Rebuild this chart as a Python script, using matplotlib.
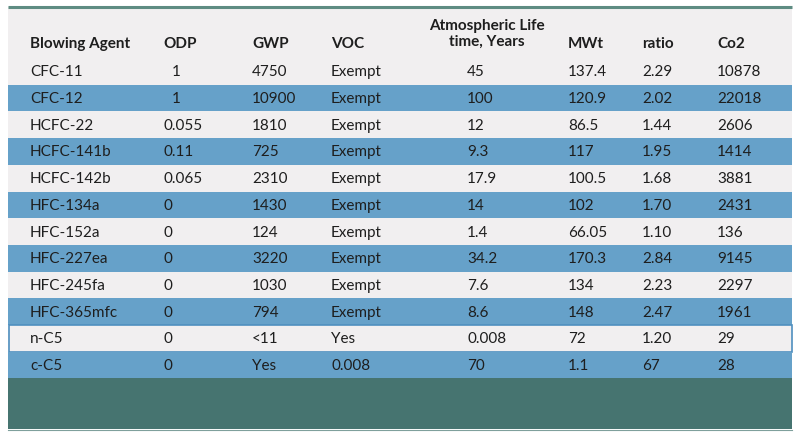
import matplotlib.pyplot as plt
from matplotlib.patches import Rectangle

plt.rcParams['font.family'] = ['Lato', 'DejaVu Sans']

# table content
headers = ['Blowing Agent', 'ODP', 'GWP', 'VOC', 'Atmospheric Life\ntime, Years', 'MWt', 'ratio', 'Co2']
agents = ['CFC-11', 'CFC-12', 'HCFC-22', 'HCFC-141b', 'HCFC-142b', 'HFC-134a',
          'HFC-152a', 'HFC-227ea', 'HFC-245fa', 'HFC-365mfc', 'n-C5', 'c-C5']
odp = ['1', '1', '0.055', '0.11', '0.065', '0', '0', '0', '0', '0', '0', '0']
gwp = ['4750', '10900', '1810', '725', '2310', '1430', '124', '3220', '1030', '794', '<11', 'Yes']
voc = ['Exempt'] * 10 + ['Yes', '0.008']
life = ['45', '100', '12', '9.3', '17.9', '14', '1.4', '34.2', '7.6', '8.6', '0.008', '70']
mwt = ['137.4', '120.9', '86.5', '117', '100.5', '102', '66.05', '170.3', '134', '148', '72', '1.1']
ratio = ['2.29', '2.02', '1.44', '1.95', '1.68', '1.70', '1.10', '2.84', '2.23', '2.47', '1.20', '67']
co2 = ['10878', '22018', '2606', '1414', '3881', '2431', '136', '9145', '2297', '1961', '29', '28']

columns = [agents, odp, gwp, voc, life, mwt, ratio, co2]
col_x = [30, 163, 252, 331, 467, 568, 642, 717]

W, H = 800, 439
left, right = 8, 792
top_line = 8
head_bottom = 59
row_h = 26.7

grey = '#f1eff0'
blue = '#66a1c9'
teal = '#467470'
text_col = '#1e1e1e'

fig = plt.figure(figsize=(W / 100, H / 100), dpi=100)
ax = fig.add_axes([0, 0, 1, 1])
ax.set_xlim(0, W)
ax.set_ylim(H, 0)
ax.axis('off')

n = len(agents)
table_bottom = head_bottom + n * row_h

# background + top rule
ax.add_patch(Rectangle((left, top_line), right - left, table_bottom - top_line, color=grey, lw=0))
ax.plot([left, right], [top_line, top_line], color='#5e8c82', lw=2.2, solid_capstyle='butt')

# striped rows
for i in range(n):
    y0 = head_bottom + i * row_h
    if i % 2 == 1:
        ax.add_patch(Rectangle((left, y0), right - left, row_h, color=blue, lw=0))
    if agents[i] == 'n-C5':
        ax.add_patch(Rectangle((left + 0.5, y0), right - left - 1, row_h, fill=False,
                               ec='#4f8fbf', lw=1.2))

# bottom band
ax.add_patch(Rectangle((left, table_bottom), right - left, 51, color=teal, lw=0))
ax.plot([left, right], [table_bottom + 51.5, table_bottom + 51.5], color='#7fa09c', lw=0.8)

# header
for j, h in enumerate(headers):
    if '\n' in h:
        ax.text(487, 34, h, ha='center', va='center', fontsize=11, fontweight='bold',
                color=text_col, linespacing=1.2)
    else:
        ax.text(col_x[j], 44, h, ha='left', va='center', fontsize=11, fontweight='bold',
                color=text_col)

# body
for j, col in enumerate(columns):
    for i, val in enumerate(col):
        yc = head_bottom + (i + 0.5) * row_h
        x = col_x[j]
        if j == 1 and val == '1':
            x = 172
        ax.text(x, yc, val, ha='left', va='center', fontsize=11, color=text_col)

fig.savefig('out.png', dpi=100)
